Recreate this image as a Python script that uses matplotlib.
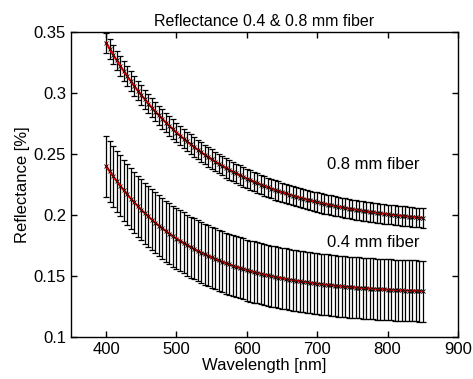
import numpy as np
import matplotlib
matplotlib.use("Agg")
import matplotlib.pyplot as plt
from matplotlib.ticker import FuncFormatter

plt.rcParams["font.family"] = ["Liberation Sans", "DejaVu Sans"]

# wavelengths, 5 nm steps from 400 to 850 nm
wavelength = np.arange(400, 851, 5)

# mean reflectance, 0.8 mm fiber
refl_08 = [
    0.3410, 0.3361, 0.3313, 0.3266, 0.3222, 0.3178, 0.3136, 0.3096, 0.3057, 0.3019,
    0.2982, 0.2947, 0.2912, 0.2879, 0.2847, 0.2816, 0.2786, 0.2757, 0.2729, 0.2702,
    0.2675, 0.2650, 0.2625, 0.2602, 0.2579, 0.2556, 0.2535, 0.2514, 0.2494, 0.2474,
    0.2456, 0.2437, 0.2420, 0.2403, 0.2386, 0.2370, 0.2355, 0.2340, 0.2325, 0.2312,
    0.2298, 0.2285, 0.2272, 0.2260, 0.2248, 0.2237, 0.2226, 0.2215, 0.2205, 0.2195,
    0.2185, 0.2176, 0.2167, 0.2158, 0.2150, 0.2141, 0.2134, 0.2126, 0.2118, 0.2111,
    0.2104, 0.2098, 0.2091, 0.2085, 0.2079, 0.2073, 0.2067, 0.2062, 0.2057, 0.2051,
    0.2046, 0.2042, 0.2037, 0.2033, 0.2028, 0.2024, 0.2020, 0.2016, 0.2012, 0.2009,
    0.2005, 0.2002, 0.1998, 0.1995, 0.1992, 0.1989, 0.1986, 0.1983, 0.1980, 0.1978,
    0.1975,
]

# mean reflectance, 0.4 mm fiber
refl_04 = [
    0.2400, 0.2357, 0.2316, 0.2277, 0.2239, 0.2203, 0.2168, 0.2134, 0.2102, 0.2072,
    0.2042, 0.2014, 0.1987, 0.1961, 0.1936, 0.1912, 0.1889, 0.1867, 0.1846, 0.1826,
    0.1806, 0.1788, 0.1770, 0.1753, 0.1736, 0.1721, 0.1705, 0.1691, 0.1677, 0.1664,
    0.1651, 0.1639, 0.1627, 0.1615, 0.1605, 0.1594, 0.1584, 0.1575, 0.1566, 0.1557,
    0.1548, 0.1540, 0.1532, 0.1525, 0.1518, 0.1511, 0.1504, 0.1498, 0.1492, 0.1486,
    0.1481, 0.1475, 0.1470, 0.1465, 0.1461, 0.1456, 0.1452, 0.1448, 0.1444, 0.1440,
    0.1436, 0.1433, 0.1429, 0.1426, 0.1423, 0.1420, 0.1417, 0.1414, 0.1412, 0.1409,
    0.1407, 0.1404, 0.1402, 0.1400, 0.1398, 0.1396, 0.1394, 0.1392, 0.1391, 0.1389,
    0.1387, 0.1386, 0.1384, 0.1383, 0.1382, 0.1380, 0.1379, 0.1378, 0.1377, 0.1376,
    0.1375,
]

# standard deviations
err_08 = 0.008
err_04 = 0.025

fig = plt.figure(figsize=(4.73, 3.79), dpi=100)
ax = fig.add_axes([0.150, 0.111, 0.818, 0.805])

for refl, err in [(refl_08, err_08), (refl_04, err_04)]:
    ax.errorbar(wavelength, refl, yerr=err, fmt="none", ecolor="black",
                elinewidth=0.9, capsize=2.2, capthick=0.9)
    ax.plot(wavelength, refl, color="red", lw=1.6)
    ax.plot(wavelength, refl, "x", color="black", ms=2.5, mew=0.6)

ax.text(714, 0.241, "0.8 mm fiber", fontsize=12, va="center")
ax.text(714, 0.177, "0.4 mm fiber", fontsize=12, va="center")

ax.set_xlim(350, 900)
ax.set_ylim(0.1, 0.35)
ax.set_xticks([400, 500, 600, 700, 800, 900])
ax.set_yticks([0.1, 0.15, 0.2, 0.25, 0.3, 0.35])
ax.yaxis.set_major_formatter(FuncFormatter(lambda v, p: f"{v:g}"))
ax.tick_params(direction="in", top=True, right=True, length=4, labelsize=12, width=1)
for s in ax.spines.values():
    s.set_linewidth(1.0)

ax.set_title("Reflectance 0.4 & 0.8 mm fiber", fontsize=11.5, pad=4)
ax.set_xlabel("Wavelength [nm]", fontsize=12, labelpad=1)
ax.set_ylabel("Reflectance [%]", fontsize=12, labelpad=3)

plt.savefig("out.png", dpi=100)
